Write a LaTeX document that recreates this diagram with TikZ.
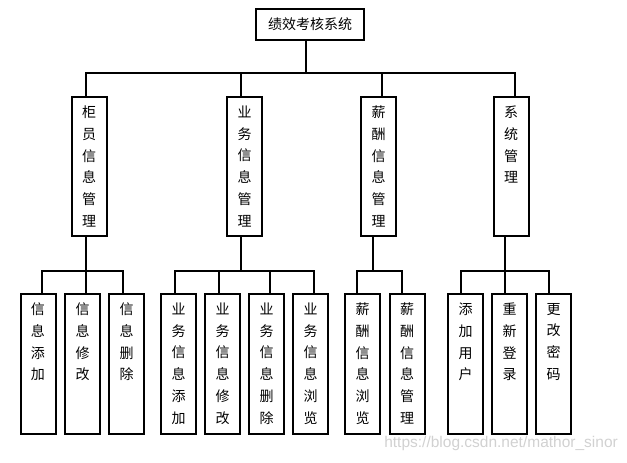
\documentclass[tikz,border=0pt]{standalone}
\usepackage{fontspec}
\newfontfamily\cjk{Noto Sans CJK SC}
\newfontfamily\wmfont{Liberation Sans}
\newcommand{\vchars}[2]{\parbox[c][#1][t]{30pt}{\centering\cjk\fontsize{14}{21.7}\selectfont\vspace*{9pt}#2}}
\newcommand{\midtxt}[1]{\vchars{139pt}{#1}}
\newcommand{\leaftxt}[1]{\vchars{140pt}{#1}}
\tikzset{
  boxbase/.style={draw, rectangle, line width=2pt, inner sep=0pt, anchor=center},
  topbox/.style={boxbase, minimum width=108pt, minimum height=31pt, font=\cjk\fontsize{14}{16}\selectfont},
  midbox/.style={boxbase, minimum width=35pt, minimum height=139pt},
  leafbox/.style={boxbase, minimum width=35pt, minimum height=140pt},
  wire/.style={line width=2pt, line join=miter},
}
\begin{document}
\begin{tikzpicture}[x=1pt, y=-1pt]
\useasboundingbox (0,0) rectangle (627,463);
% top
\node[topbox] (root) at (310,24.5) {绩效考核系统};
% level 2
\node[midbox] (A) at (89,166.5) {\midtxt{柜\\员\\信\\息\\管\\理}};
\node[midbox] (B) at (244.5,166.5) {\midtxt{业\\务\\信\\息\\管\\理}};
\node[midbox] (C) at (378.5,166.5) {\midtxt{薪\\酬\\信\\息\\管\\理}};
\node[midbox] (D) at (511,166.5) {\midtxt{系\\统\\管\\理}};
% leaves
\node[leafbox] (n1) at (38,364) {\leaftxt{信\\息\\添\\加}};
\node[leafbox] (n2) at (82.5,364) {\leaftxt{信\\息\\修\\改}};
\node[leafbox] (n3) at (126.5,364) {\leaftxt{信\\息\\删\\除}};
\node[leafbox] (n4) at (178.5,364) {\leaftxt{业\\务\\信\\息\\添\\加}};
\node[leafbox] (n5) at (222.5,364) {\leaftxt{业\\务\\信\\息\\修\\改}};
\node[leafbox] (n6) at (266.5,364) {\leaftxt{业\\务\\信\\息\\删\\除}};
\node[leafbox] (n7) at (310.5,364) {\leaftxt{业\\务\\信\\息\\浏\\览}};
\node[leafbox] (n8) at (362.5,364) {\leaftxt{薪\\酬\\信\\息\\浏\\览}};
\node[leafbox] (n9) at (407,364) {\leaftxt{薪\\酬\\信\\息\\管\\理}};
\node[leafbox] (n10) at (465.5,364) {\leaftxt{添\\加\\用\\户}};
\node[leafbox] (n11) at (509.5,364) {\leaftxt{重\\新\\登\\录}};
\node[leafbox] (n12) at (553.5,364) {\leaftxt{更\\改\\密\\码}};
% main bus
\coordinate (s0) at (306,73);
\coordinate (sA) at (86,73);
\coordinate (sB) at (241,73);
\coordinate (sC) at (382,73);
\coordinate (sD) at (515,73);
\draw[wire] (root.south -| s0) -- (s0);
\draw[wire] (sA |- A.north) -- (sA) -- (sD) -- (sD |- D.north);
\draw[wire] (sB) -- (sB |- B.north);
\draw[wire] (sC) -- (sC |- C.north);
% sub buses
\coordinate (gA) at (86,271);
\coordinate (gB) at (241,271);
\coordinate (gC) at (373,271);
\coordinate (gD) at (505,271);
\coordinate (d1) at (42,271);
\coordinate (d2) at (86,271);
\coordinate (d3) at (123,271);
\coordinate (d4) at (175,271);
\coordinate (d5) at (219,271);
\coordinate (d6) at (270,271);
\coordinate (d7) at (314,271);
\coordinate (d8) at (357,271);
\coordinate (d9) at (402,271);
\coordinate (d10) at (461,271);
\coordinate (d11) at (505,271);
\coordinate (d12) at (549,271);
\draw[wire] (A.south -| gA) -- (gA);
\draw[wire] (B.south -| gB) -- (gB);
\draw[wire] (C.south -| gC) -- (gC);
\draw[wire] (D.south -| gD) -- (gD);
\draw[wire] (d1 |- n1.north) -- (d1) -- (d3) -- (d3 |- n3.north);
\draw[wire] (d2) -- (d2 |- n2.north);
\draw[wire] (d4 |- n4.north) -- (d4) -- (d7) -- (d7 |- n7.north);
\draw[wire] (d5) -- (d5 |- n5.north);
\draw[wire] (d6) -- (d6 |- n6.north);
\draw[wire] (d8 |- n8.north) -- (d8) -- (d9) -- (d9 |- n9.north);
\draw[wire] (d10 |- n10.north) -- (d10) -- (d12) -- (d12 |- n12.north);
\draw[wire] (d11) -- (d11 |- n11.north);
% watermark
\node[text=black!18, font=\wmfont\fontsize{15.5}{17}\selectfont, anchor=east, inner sep=0pt] (wm) at (618,443) {https://blog.csdn.net/mathor\_sinor};
\end{tikzpicture}
\end{document}
